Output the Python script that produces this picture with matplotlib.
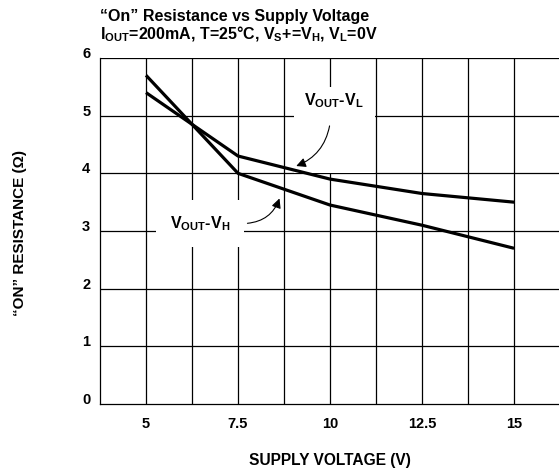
import matplotlib
matplotlib.use("Agg")
import matplotlib.pyplot as plt
from matplotlib.patches import Rectangle

plt.rcParams['font.family'] = ['Liberation Sans', 'DejaVu Sans']
plt.rcParams['font.weight'] = 'bold'
plt.rcParams['mathtext.fontset'] = 'custom'
plt.rcParams['mathtext.rm'] = 'Liberation Sans:bold'
plt.rcParams['mathtext.bf'] = 'Liberation Sans:bold'
plt.rcParams['mathtext.it'] = 'Liberation Sans:bold'

# Data
supply_voltage = [5, 7.5, 10, 12.5, 15]
vout_vl = [5.4, 4.3, 3.9, 3.65, 3.5]
vout_vh = [5.7, 4.0, 3.45, 3.1, 2.7]
xtick_vals = [5, 7.5, 10, 12.5, 15]
xtick_labels = ['5', '7.5', '10', '12.5', '15']
ytick_vals = [0, 1, 2, 3, 4, 5, 6]
xgrid_vals = [5, 6.25, 7.5, 8.75, 10, 11.25, 12.5, 13.75, 15, 16.25]

W, H = 559, 470
fig = plt.figure(figsize=(W / 100, H / 100), dpi=100)
ax = fig.add_axes([100 / W, 66 / H, 1 - 100 / W, (404 - 58) / H])
ax.set_xlim(3.75, 16.22)
ax.set_ylim(0, 6)

for gx in xgrid_vals:
    ax.axvline(gx, color='black', lw=0.9, zorder=1)
for gy in ytick_vals[1:]:
    ax.axhline(gy, color='black', lw=0.9, zorder=1)

for s in ['top', 'right']:
    ax.spines[s].set_visible(False)
for s in ['left', 'bottom']:
    ax.spines[s].set_linewidth(0.9)

ax.set_xticks(xtick_vals)
ax.set_xticklabels(xtick_labels)
ax.set_yticks(ytick_vals)
ax.tick_params(length=0, labelsize=10.5, pad=9)
ax.tick_params(axis='y', pad=7)
for lab in ax.get_yticklabels():
    lab.set_verticalalignment('baseline')

# label boxes (white)
ax.add_patch(Rectangle((9.01, 4.0), 2.2, 1.5, facecolor='white', edgecolor='none', zorder=2))
ax.add_patch(Rectangle((5.27, 2.73), 2.38, 0.81, facecolor='white', edgecolor='none', zorder=2))

ax.plot(supply_voltage, vout_vl, color='black', lw=2.3, zorder=3, solid_capstyle='butt')
ax.plot(supply_voltage, vout_vh, color='black', lw=2.3, zorder=3, solid_capstyle='butt')

ax.text(10.1, 5.18, r'V$_{\mathbf{OUT}}$-V$_{\mathbf{L}}$', ha='center', va='baseline',
        fontsize=11.5, fontweight='bold', zorder=4)
ax.text(6.47, 3.05, r'V$_{\mathbf{OUT}}$-V$_{\mathbf{H}}$', ha='center', va='baseline',
        fontsize=11.5, fontweight='bold', zorder=4)

ax.annotate('', xy=(9.01, 4.11), xytext=(10.0, 4.87),
            arrowprops=dict(arrowstyle='-|>', color='black', lw=0.8,
                            connectionstyle='arc3,rad=-0.3', mutation_scale=14),
            zorder=4)
ax.annotate('', xy=(8.65, 3.61), xytext=(7.68, 3.13),
            arrowprops=dict(arrowstyle='-|>', color='black', lw=0.8,
                            connectionstyle='arc3,rad=0.35', mutation_scale=14),
            zorder=4)

fig.text(100 / W, 1 - 21 / H, '\u201cOn\u201d Resistance vs Supply Voltage', ha='left', va='baseline',
         fontsize=11.5, fontweight='bold')
fig.text(100 / W, 1 - 39 / H,
         r'I$_{\mathbf{OUT}}$=200mA, T=25°C, V$_{\mathbf{S}}$+=V$_{\mathbf{H}}$, V$_{\mathbf{L}}$=0V',
         ha='left', va='baseline', fontsize=11.5, fontweight='bold')

fig.text(329.5 / W, 1 - 460 / H, 'SUPPLY VOLTAGE (V)', ha='center', va='center',
         fontsize=11.2, fontweight='bold')
fig.text(20 / W, 1 - 233 / H, '\u201cON\u201d RESISTANCE (\u03a9)', ha='center', va='center',
         rotation=90, fontsize=11, fontweight='bold')

fig.savefig('out.png', dpi=100)
